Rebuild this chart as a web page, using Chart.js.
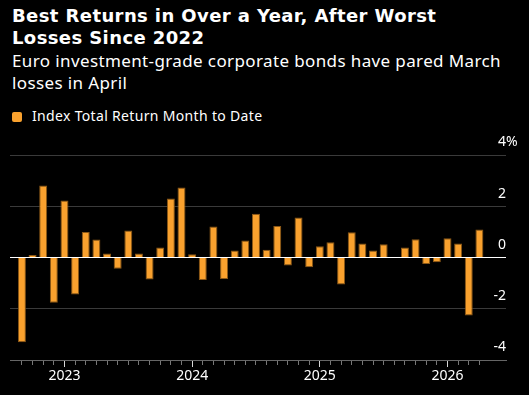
<!DOCTYPE html>
<html>
<head>
<meta charset="utf-8">
<script src="https://cdn.jsdelivr.net/npm/chart.js@4.4.1/dist/chart.umd.min.js"></script>
<style>
  body { margin: 0; background: #000; width: 529px; height: 395px; overflow: hidden; position: relative; }
  .title { position: absolute; left: 12px; top: 5px; font: bold 18px "DejaVu Sans"; letter-spacing: 0.4px; line-height: 22.4px; color: #fff; }
  .subtitle { position: absolute; left: 12px; top: 50px; font: 17px "Noto Sans"; letter-spacing: 0.38px; line-height: 22.4px; color: #fff; }
  .legend { position: absolute; left: 32px; top: 108px; font: 14px "Noto Sans"; letter-spacing: 0.33px; line-height: 16px; color: #fff; }
  .swatch { position: absolute; left: 12px; top: 112px; width: 10px; height: 10px; border-radius: 2px; background: #f9a12e; }
  .wrap { position: absolute; left: 0; top: 130px; width: 529px; height: 265px; }
</style>
</head>
<body>
<div class="title">Best Returns in Over a Year, After Worst<br>Losses Since 2022</div>
<div class="subtitle">Euro investment-grade corporate bonds have pared March<br>losses in April</div>
<div class="swatch"></div>
<div class="legend">Index Total Return Month to Date</div>
<div class="wrap"><canvas class="myChart"></canvas></div>
<script>
// months Sep 2022 .. Apr 2026
const months = [
    "2022-09", "2022-10", "2022-11", "2022-12",
    "2023-01", "2023-02", "2023-03", "2023-04", "2023-05", "2023-06",
    "2023-07", "2023-08", "2023-09", "2023-10", "2023-11", "2023-12",
    "2024-01", "2024-02", "2024-03", "2024-04", "2024-05", "2024-06",
    "2024-07", "2024-08", "2024-09", "2024-10", "2024-11", "2024-12",
    "2025-01", "2025-02", "2025-03", "2025-04", "2025-05", "2025-06",
    "2025-07", "2025-08", "2025-09", "2025-10", "2025-11", "2025-12",
    "2026-01", "2026-02", "2026-03", "2026-04"
];
// Index total return month to date, %
const returns = [
    -3.31, 0.10, 2.81, -1.77,
    2.22, -1.44, 1.00, 0.70, 0.16, -0.44,
    1.05, 0.16, -0.86, 0.39, 2.30, 2.73,
    0.13, -0.88, 1.21, -0.84, 0.27, 0.66,
    1.71, 0.30, 1.23, -0.31, 1.56, -0.38,
    0.44, 0.60, -1.05, 0.99, 0.55, 0.27,
    0.52, -0.02, 0.39, 0.71, -0.25, -0.19,
    0.75, 0.55, -2.26, 1.09
];
const yTicks = [-4, -2, 0, 2, 4];

const orange = "#f9a12e";
const tickFont = { family: "Noto Sans", size: 14 };

function isJanuary(i) {
    return months[i] && months[i].endsWith("-01");
}

/*
    y labels sit above the grid lines, with the % hanging after the top one
*/
const yLabels = {
    id: "yLabels",
    afterDraw(chart) {
        const ctx = chart.ctx;
        const y = chart.scales.y;
        const right = chart.chartArea.right;
        ctx.save();
        ctx.font = "14px 'Noto Sans'";
        ctx.fillStyle = "#fff";
        ctx.textBaseline = "middle";
        y.ticks.forEach(t => {
            const py = y.getPixelForValue(t.value) - 12.5;
            ctx.textAlign = "right";
            ctx.fillText(String(t.value), right, py);
            if (t.value === y.max) {
                ctx.textAlign = "left";
                ctx.fillText("%", right, py);
            }
        });
        ctx.restore();
    }
};

const data = {
    datasets: [{
        label: "Index Total Return Month to Date",
        data: returns.map((v, i) => ({ x: i, y: v })),
        backgroundColor: orange,
        borderColor: "#8a5716",
        borderWidth: 1,
        barPercentage: 0.75,
        categoryPercentage: 1
    }]
};

const config = {
    type: "bar",
    data: data,
    options: {
        responsive: true,
        maintainAspectRatio: false,
        animation: false,
        layout: { padding: { left: 10, right: 23, top: 25, bottom: 0 } },
        plugins: {
            legend: { display: false },
            tooltip: { enabled: false }
        },
        scales: {
            x: {
                type: "linear",
                min: -1.12,
                max: 45.5,
                offset: false,
                afterBuildTicks: (s) => { s.ticks = months.map((m, i) => ({ value: i })); },
                afterFit: (s) => { s.height = 35; },
                grid: {
                    offset: false,
                    drawOnChartArea: false,
                    drawTicks: true,
                    tickLength: 7,
                    tickWidth: 1,
                    tickColor: (c) => isJanuary(c.index) ? "#d8d8d8" : "#777",
                    tickBorderDash: (c) => isJanuary(c.index) ? [] : [4, 20]
                },
                border: { display: true, color: "#666" },
                ticks: {
                    autoSkip: false,
                    maxRotation: 0,
                    padding: 1,
                    color: "#fff",
                    font: tickFont,
                    callback: (v, i) => isJanuary(i) ? months[i].slice(0, 4) : ""
                }
            },
            y: {
                position: "right",
                min: -4,
                max: 4,
                afterBuildTicks: (s) => { s.ticks = yTicks.map(v => ({ value: v })); },
                afterFit: (s) => { s.width = 0; },
                grid: {
                    drawTicks: false,
                    color: (c) => c.tick && c.tick.value === 0 ? "#ffffff" : "#3a3a3a"
                },
                border: { display: false },
                ticks: { display: false }
            }
        }
    },
    plugins: [yLabels]
};

// eslint-disable-next-line no-undef
const myChart = new Chart(document.querySelector(".myChart"), config);
</script>
</body>
</html>
